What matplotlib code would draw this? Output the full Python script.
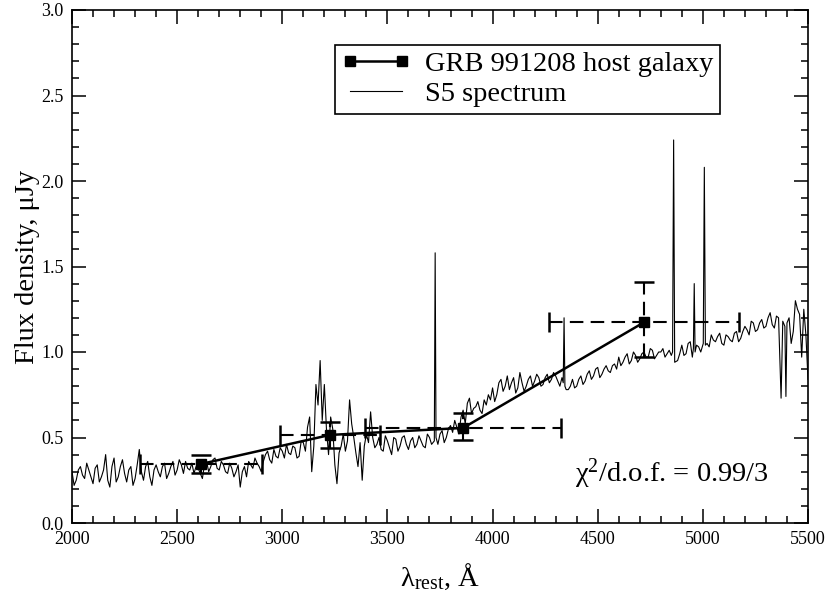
import numpy as np
import matplotlib
matplotlib.use("Agg")
import matplotlib.pyplot as plt
from matplotlib.ticker import MultipleLocator, FormatStrFormatter

plt.rcParams['font.family'] = ['Liberation Serif', 'DejaVu Serif']
plt.rcParams['mathtext.fontset'] = 'custom'
plt.rcParams['mathtext.rm'] = 'Liberation Serif'
plt.rcParams['mathtext.it'] = 'Liberation Serif:italic'

# ---- S5 spectrum ----
# samples at 2000, 2020, ..., 5500
spec_even_wave = np.arange(2000, 5501, 20)
spec_even_flux = [
    0.30, 0.25, 0.33, 0.26, 0.31, 0.23, 0.34, 0.27, 0.40, 0.21,
    0.38, 0.27, 0.37, 0.24, 0.33, 0.26, 0.43, 0.25, 0.36, 0.22,
    0.34, 0.27, 0.35, 0.29, 0.36, 0.31, 0.34, 0.36, 0.31, 0.29,
    0.32, 0.26, 0.36, 0.33, 0.38, 0.31, 0.34, 0.29, 0.32, 0.30,
    0.21, 0.33, 0.36, 0.32, 0.35, 0.30, 0.40, 0.37, 0.43, 0.38,
    0.42, 0.46, 0.40, 0.44, 0.39, 0.47, 0.56, 0.30, 0.81, 0.95,
    0.81, 0.40, 0.55, 0.23, 0.45, 0.42, 0.72, 0.50, 0.33, 0.25,
    0.52, 0.65, 0.44, 0.50, 0.42, 0.48, 0.40, 0.49, 0.45, 0.51,
    0.43, 0.50, 0.46, 0.48, 0.44, 0.50, 0.47, 0.46, 0.54, 0.50,
    0.57, 0.60, 0.52, 0.66, 0.70, 0.64, 0.68, 0.66, 0.72, 0.75,
    0.79, 0.75, 0.84, 0.80, 0.78, 0.85, 0.79, 0.82, 0.80, 0.86,
    0.83, 0.85, 0.81, 0.87, 0.84, 0.86, 0.80, 0.82, 0.78, 0.84,
    0.80, 0.86, 0.83, 0.89, 0.86, 0.91, 0.87, 0.92, 0.88, 0.93,
    0.97, 0.94, 0.99, 0.95, 0.98, 0.96, 1.00, 0.97, 1.01, 0.98,
    1.00, 0.97, 1.01, 0.99, 0.95, 1.04, 0.99, 1.06, 1.01, 1.03,
    1.06, 1.05, 1.10, 1.06, 1.11, 1.04, 1.09, 1.06, 1.12, 1.08,
    1.15, 1.10, 1.17, 1.13, 1.19, 1.15, 1.23, 1.14, 1.20, 1.18,
    1.17, 1.05, 1.30, 1.22, 1.25, 0.84,
]
# samples at 2010, 2030, ..., 5490
spec_odd_wave = np.arange(2010, 5500, 20)
spec_odd_flux = [
    0.22, 0.31, 0.28, 0.35, 0.27, 0.32, 0.24, 0.31, 0.25, 0.33,
    0.24, 0.33, 0.29, 0.31, 0.22, 0.34, 0.30, 0.33, 0.27, 0.31,
    0.30, 0.33, 0.26, 0.33, 0.28, 0.37, 0.29, 0.32, 0.35, 0.33,
    0.29, 0.34, 0.30, 0.37, 0.32, 0.36, 0.30, 0.35, 0.27, 0.34,
    0.30, 0.27, 0.34, 0.38, 0.33, 0.36, 0.42, 0.35, 0.39, 0.44,
    0.38, 0.41, 0.45, 0.38, 0.48, 0.42, 0.62, 0.45, 0.69, 0.60,
    0.55, 0.62, 0.34, 0.41, 0.52, 0.48, 0.58, 0.41, 0.47, 0.45,
    0.47, 0.50, 0.46, 0.43, 0.51, 0.44, 0.50, 0.42, 0.50, 0.46,
    0.48, 0.44, 0.51, 0.45, 0.52, 0.46, 0.49, 0.52, 0.47, 0.55,
    0.53, 0.56, 0.62, 0.58, 0.73, 0.67, 0.71, 0.64, 0.69, 0.72,
    0.71, 0.82, 0.77, 0.86, 0.82, 0.76, 0.88, 0.77, 0.84, 0.80,
    0.87, 0.80, 0.85, 0.82, 0.88, 0.83, 0.85, 0.78, 0.80, 0.79,
    0.84, 0.81, 0.87, 0.84, 0.90, 0.85, 0.90, 0.89, 0.92, 0.90,
    0.92, 0.97, 0.93, 1.00, 0.94, 0.99, 0.97, 1.02, 0.96, 1.00,
    1.02, 0.99, 0.98, 1.00, 0.99, 0.98, 1.05, 0.97, 1.04, 1.00,
    1.08, 1.03, 1.07, 1.09, 1.05, 1.10, 1.07, 1.11, 1.06, 1.12,
    1.13, 1.18, 1.12, 1.17, 1.14, 1.20, 1.16, 1.21, 1.12, 1.15,
    1.20, 1.12, 1.25, 1.05, 1.28,
]
# emission lines and narrow features
feat_wave = [3723, 3727, 3731, 4336, 4340, 4344, 4856, 4861, 4866,
             4955, 4959, 4963, 5002, 5007, 5012, 5372, 5395, 5470, 5490]
feat_flux = [0.48, 1.58, 0.50, 0.82, 1.20, 0.80, 1.00, 2.24, 0.94,
             1.02, 1.40, 1.00, 1.05, 2.08, 1.04, 0.73, 0.74, 0.97, 1.10]

# ---- GRB 991208 host galaxy ----
host_wave = [2613, 3227, 3860, 4722]
host_flux = [0.345, 0.515, 0.556, 1.175]
host_xerr = [290, 238, 466, 452]
host_yerr_lo = [0.050, 0.075, 0.068, 0.205]
host_yerr_hi = [0.053, 0.077, 0.087, 0.233]

bw = np.concatenate([spec_even_wave, spec_odd_wave]).astype(float)
bf = np.concatenate([spec_even_flux, spec_odd_flux]).astype(float)
fw = np.asarray(feat_wave, float)
ff = np.asarray(feat_flux, float)
keep = np.min(np.abs(bw[:, None] - fw[None, :]), axis=1) > 4
w = np.concatenate([bw[keep], fw])
f = np.concatenate([bf[keep], ff])
order = np.argsort(w)
w, f = w[order], f[order]

fig = plt.figure(figsize=(8.30, 6.03), dpi=100)
ax = fig.add_axes([72/830, 1-523/603, 736/830, 513/603])

spec_line, = ax.plot(w, f, color='black', lw=0.8, zorder=2, label='S5 spectrum')

eb = ax.errorbar(host_wave, host_flux, xerr=host_xerr,
                 yerr=[host_yerr_lo, host_yerr_hi],
                 fmt='none', ecolor='black', elinewidth=1.5, capsize=7,
                 capthick=1.8, zorder=3)
for lc in eb[2]:
    lc.set_linestyle((0, (6.5, 3.5)))
host_line, = ax.plot(host_wave, host_flux, color='black', lw=1.8,
                     marker='s', ms=6.5, zorder=4, label='GRB 991208 host galaxy')

ax.set_xlim(2000, 5500)
ax.set_ylim(0, 3.0)
ax.xaxis.set_major_locator(MultipleLocator(500))
ax.xaxis.set_minor_locator(MultipleLocator(100))
ax.yaxis.set_major_locator(MultipleLocator(0.5))
ax.yaxis.set_minor_locator(MultipleLocator(0.1))
ax.yaxis.set_major_formatter(FormatStrFormatter('%.1f'))
ax.tick_params(which='both', direction='in', top=True, right=True,
               labelsize=13, width=1.1)
ax.tick_params(which='major', length=10)
ax.tick_params(axis='x', which='major', pad=6)
ax.tick_params(axis='y', which='major', pad=6)
ax.tick_params(which='minor', length=5)
for s in ax.spines.values():
    s.set_linewidth(1.2)

ax.set_xlabel('λ$_{\\mathrm{rest}}$, Å', fontsize=20.5, labelpad=10)
ax.set_ylabel('Flux density, μJy', fontsize=20.5, labelpad=1)

ax.text(4392, 0.29, 'χ$^2$/d.o.f. = 0.99/3', fontsize=20.5, va='center', ha='left')

leg = ax.legend(handles=[host_line, spec_line], loc='upper right',
                bbox_to_anchor=(0.88, 0.932), borderaxespad=0, fontsize=20.5,
                fancybox=False, edgecolor='black', framealpha=1,
                numpoints=2, handlelength=2.45, borderpad=0.22,
                labelspacing=0.15, handletextpad=0.5)
leg.get_frame().set_linewidth(1.2)

fig.savefig('out.png', dpi=100)
